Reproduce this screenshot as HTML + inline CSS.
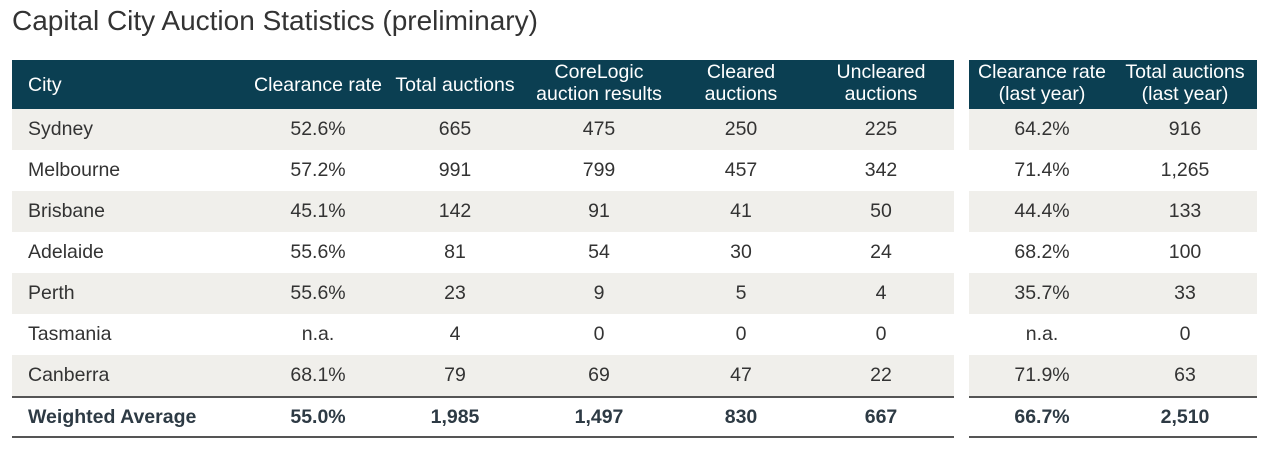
<!DOCTYPE html>
<html><head><meta charset="utf-8"><style>
body{margin:0;width:1270px;height:449px;background:#fff;font-family:"Liberation Sans",Arial,sans-serif;color:#333;position:relative;overflow:hidden}
.a{position:absolute}
.t{position:absolute;font-size:19.5px;white-space:nowrap;transform:translateX(-50%);text-align:center;line-height:20px}
.hd{color:#fff;line-height:22px}
</style></head><body>
<div class="a" style="left:12px;top:5px;font-size:28px;color:#333">Capital City Auction Statistics (preliminary)</div>
<div class="a" style="left:12px;top:60px;width:942px;height:50px;background:#0b3f52"></div>
<div class="a" style="left:969px;top:60px;width:288px;height:50px;background:#0b3f52"></div>
<div id="tbl"></div>
<script>
const cities=["Sydney","Melbourne","Brisbane","Adelaide","Perth","Tasmania","Canberra"];
const clearance=["52.6%","57.2%","45.1%","55.6%","55.6%","n.a.","68.1%"];
const totalAuctions=["665","991","142","81","23","4","79"];
const corelogic=["475","799","91","54","9","0","69"];
const cleared=["250","457","41","30","5","0","47"];
const uncleared=["225","342","50","24","4","0","22"];
const clearanceLY=["64.2%","71.4%","44.4%","68.2%","35.7%","n.a.","71.9%"];
const totalLY=["916","1,265","133","100","33","0","63"];
const avg=["Weighted Average","55.0%","1,985","1,497","830","667","66.7%","2,510"];
const headers=[["City"],["Clearance rate"],["Total auctions"],["CoreLogic","auction results"],["Cleared","auctions"],["Uncleared","auctions"],["Clearance rate","(last year)"],["Total auctions","(last year)"]];
const cx=[28,318,455,599,741,881,1042,1185];
const root=document.getElementById('tbl');
function cell(txt,x,y,cls,name,bold){
  const d=document.createElement('div');
  d.className='t '+(cls||'');
  
  
  d.innerHTML=txt;
  d.style.left=x+'px';d.style.top=y+'px';
  if(x<100){d.style.transform='none';d.style.textAlign='left';}
  if(bold){d.style.fontWeight='bold';d.style.color='#2d3a44';}
  root.appendChild(d);
}
headers.forEach((h,i)=>{
  const y=h.length===1?74:61;
  cell(h.join('<br>'),cx[i],y,'hd','header-'+i);
});
for(let r=0;r<7;r++){
  const top=109+41*r;
  if(r%2===0){
    const b1=document.createElement('div');b1.className='a';
    
    
    b1.style.cssText=`left:12px;top:${top}px;width:942px;height:41px;background:#f0efeb`;root.appendChild(b1);
    const b2=document.createElement('div');b2.className='a';
    
    
    b2.style.cssText=`left:969px;top:${top}px;width:288px;height:41px;background:#f0efeb`;root.appendChild(b2);
  }
  const vals=[cities[r],clearance[r],totalAuctions[r],corelogic[r],cleared[r],uncleared[r],clearanceLY[r],totalLY[r]];
  vals.forEach((v,i)=>cell(v,cx[i],top+10,'','cell-'+r+'-'+i));
}
[[12,942],[969,288]].forEach(([l,w])=>{
  [396,436].forEach(y=>{
    const ln=document.createElement('div');ln.className='a';
    
    
    ln.style.cssText=`left:${l}px;top:${y}px;width:${w}px;height:2px;background:#555`;root.appendChild(ln);
  });
});
avg.forEach((v,i)=>cell(v,cx[i],407,'','avg-'+i,true));
</script>
</body></html>
